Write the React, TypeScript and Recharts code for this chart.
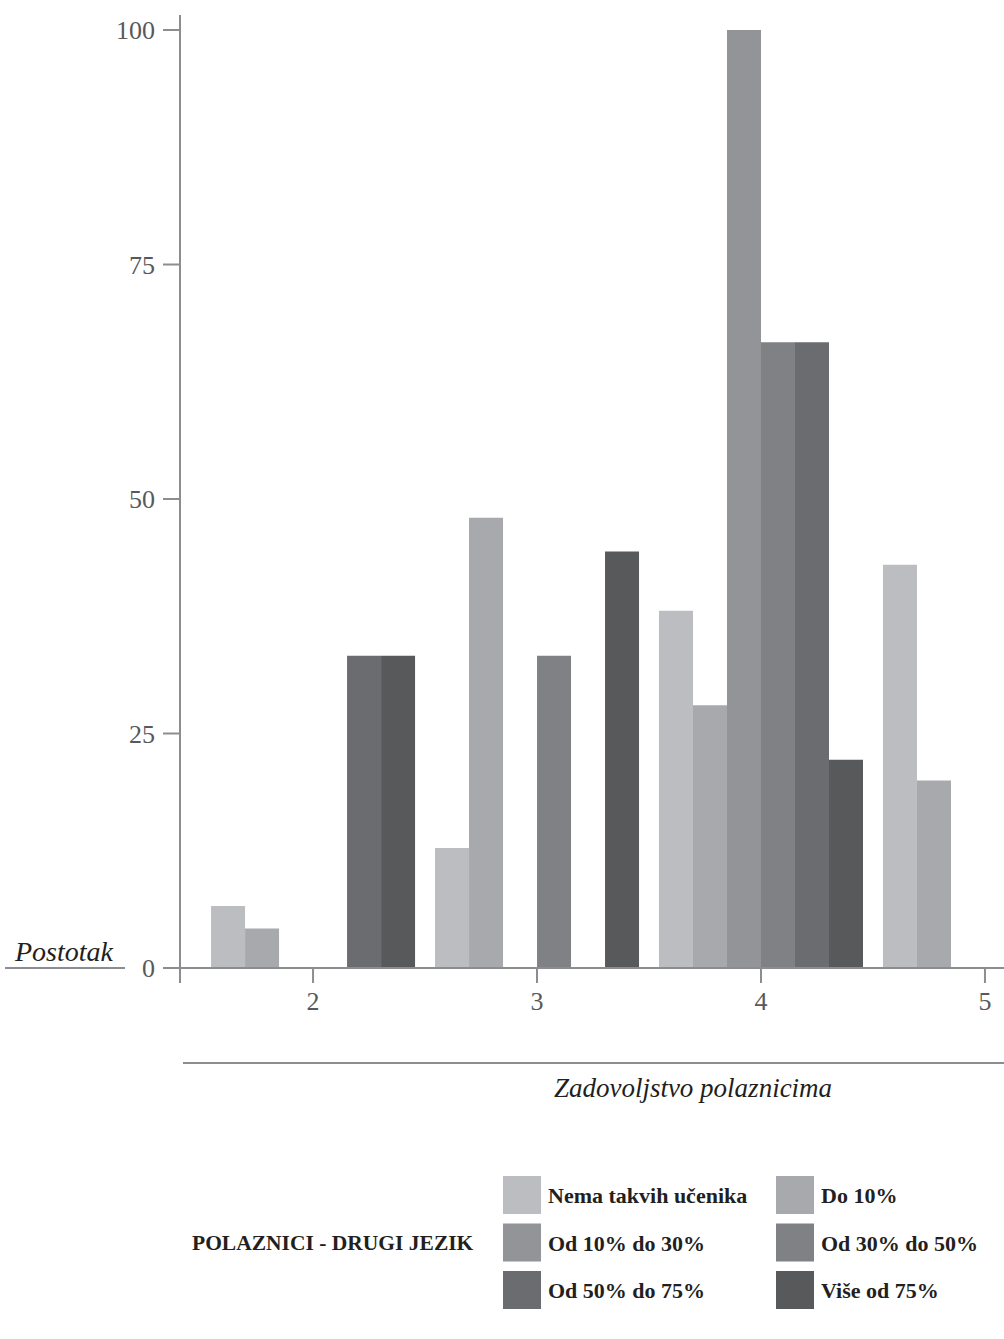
import { Bar, BarChart, XAxis, YAxis } from "recharts";

const categories = [2, 3, 4, 5];

const seriesNames = [
  "Nema takvih učenika",
  "Do 10%",
  "Od 10% do 30%",
  "Od 30% do 50%",
  "Od 50% do 75%",
  "Više od 75%",
];

const nemaTakvih = [6.6, 12.8, 38.1, 43.0];
const do10 = [4.2, 48.0, 28.0, 20.0];
const od10do30 = [0, 0, 100, 0];
const od30do50 = [0, 33.3, 66.7, 0];
const od50do75 = [33.3, 0, 66.7, 0];
const viseOd75 = [33.3, 44.4, 22.2, 0];

const yTicks = [0, 25, 50, 75, 100];
const xTicks = [1.406, 2, 3, 4, 5];

const colors = ["#bcbdc1", "#a8a9ad", "#939498", "#808185", "#6b6c70", "#58595b"];
const keys = ["s0", "s1", "s2", "s3", "s4", "s5"];
const allSeries = [nemaTakvih, do10, od10do30, od30do50, od50do75, viseOd75];

const data = categories.map((c, i) => {
  const row: Record<string, number> = { x: c };
  allSeries.forEach((s, j) => (row[keys[j]] = s[i]));
  return row;
});

const serif = "'Liberation Serif', 'Times New Roman', serif";
const axisGray = "#8c8d90";
const tickText = { fill: "#58595b", fontSize: 26, fontFamily: serif };

export default function App() {
  return (
    <div style={{ position: "absolute", left: 0, top: 0, width: 1004, height: 1339, background: "#fff" }}>
      <BarChart
        width={1004}
        height={1040}
        data={data}
        barGap={0}
        margin={{ top: 15, right: 0, left: 0, bottom: 22 }}
      >
        <XAxis
          dataKey="x"
          type="number"
          domain={[1.406, 5.085]}
          ticks={xTicks}
          tickFormatter={(v) => (v < 1.5 ? "" : String(v))}
          height={50}
          tickSize={15}
          tickMargin={9}
          stroke={axisGray}
          strokeWidth={2}
          tick={tickText}
          allowDataOverflow
        />
        <YAxis
          type="number"
          domain={[0, 101.6]}
          ticks={yTicks}
          width={180}
          tickSize={17}
          tickMargin={8}
          stroke={axisGray}
          strokeWidth={2}
          tick={tickText}
          allowDataOverflow
        />
        {keys.map((k, j) => (
          <Bar
            key={k}
            dataKey={k}
            name={seriesNames[j]}
            fill={colors[j]}
            barSize={34}
            isAnimationActive={false}
          />
        ))}
      </BarChart>
      <svg width={1004} height={1339} style={{ position: "absolute", left: 0, top: 0, pointerEvents: "none" }}>
        <text x={64} y={961} textAnchor="middle" fontFamily={serif} fontStyle="italic" fontSize={28} fill="#231f20">
          Postotak
        </text>
        <line x1={5} x2={125} y1={968} y2={968} stroke={axisGray} strokeWidth={2} />
        <line x1={183} x2={1004} y1={1063} y2={1063} stroke={axisGray} strokeWidth={2} />
        <text x={693} y={1097} textAnchor="middle" fontFamily={serif} fontStyle="italic" fontSize={27} fill="#231f20">
          Zadovoljstvo polaznicima
        </text>
        <text x={192} y={1250} fontFamily={serif} fontWeight="bold" fontSize={21.5} fill="#231f20">
          POLAZNICI - DRUGI JEZIK
        </text>
        {seriesNames.map((n, j) => {
          const col = j % 2;
          const row = Math.floor(j / 2);
          const sx = col === 0 ? 503 : 776;
          const sy = 1176 + row * 47.5;
          return (
            <g key={n}>
              <rect x={sx} y={sy} width={38} height={38} fill={colors[j]} />
              <text x={sx + 45} y={sy + 27} fontFamily={serif} fontWeight="bold" fontSize={22} fill="#231f20">
                {n}
              </text>
            </g>
          );
        })}
      </svg>
    </div>
  );
}
